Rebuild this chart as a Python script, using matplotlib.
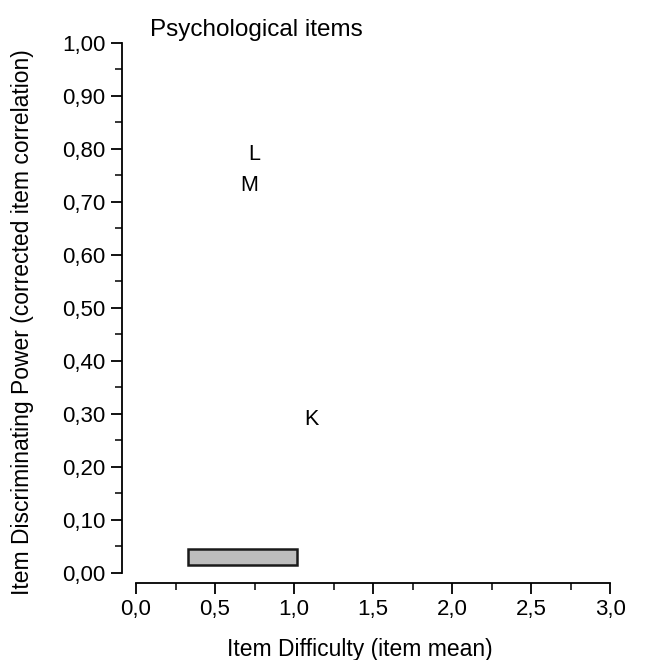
import matplotlib
matplotlib.use("Agg")
import matplotlib.pyplot as plt
from matplotlib.ticker import MultipleLocator, FuncFormatter
from matplotlib.patches import Rectangle

plt.rcParams['font.family'] = ['Liberation Sans', 'DejaVu Sans']

# item labels with (difficulty, discriminating power)
items = ["L", "M", "K"]
difficulty = [0.75, 0.715, 1.11]
power = [0.79, 0.73, 0.29]

# shaded band (difficulty range, power range)
band_x = [0.33, 1.02]
band_y = [0.015, 0.045]

fig = plt.figure(figsize=(6.52, 6.6), dpi=100)
ax = fig.add_axes([0.187, 0.132, 0.749, 0.803])

for name, x, y in zip(items, difficulty, power):
    ax.text(x, y, name, ha='center', va='center', fontsize=15.5)

ax.add_patch(Rectangle((band_x[0], band_y[0]), band_x[1] - band_x[0], band_y[1] - band_y[0],
                       facecolor='#bdbdbd', edgecolor='#1a1a1a', linewidth=1.8))

ax.set_xlim(-0.089, 3.0)
ax.set_ylim(0, 1.0)

ax.spines['top'].set_visible(False)
ax.spines['right'].set_visible(False)
ax.spines['left'].set_linewidth(1.3)
ax.spines['bottom'].set_linewidth(1.3)
ax.spines['bottom'].set_position(('outward', 7))
ax.spines['bottom'].set_bounds(0, 3.0)

ax.xaxis.set_major_locator(MultipleLocator(0.5))
ax.xaxis.set_minor_locator(MultipleLocator(0.25))
ax.yaxis.set_major_locator(MultipleLocator(0.1))
ax.yaxis.set_minor_locator(MultipleLocator(0.05))
ax.xaxis.set_major_formatter(FuncFormatter(lambda v, p: f"{v:.1f}".replace('.', ',')))
ax.yaxis.set_major_formatter(FuncFormatter(lambda v, p: f"{v:.2f}".replace('.', ',')))
ax.tick_params(which='major', length=8, width=1.3, labelsize=16, direction='out')
ax.tick_params(which='minor', length=5, width=1.1, direction='out')
ax.tick_params(axis='x', pad=4)
ax.tick_params(axis='y', pad=4)

ax.set_xlabel("Item Difficulty (item mean)", fontsize=16.5)
ax.set_ylabel("Item Discriminating Power (corrected item correlation)", fontsize=16.5)
ax.xaxis.set_label_coords(0.488, -0.122)
ax.yaxis.set_label_coords(-0.18, 0.474)
fig.text(150 / 652, 1 - 30 / 660, "Psychological items", fontsize=17.5, ha='left', va='center')

fig.savefig("out.png", dpi=100)
